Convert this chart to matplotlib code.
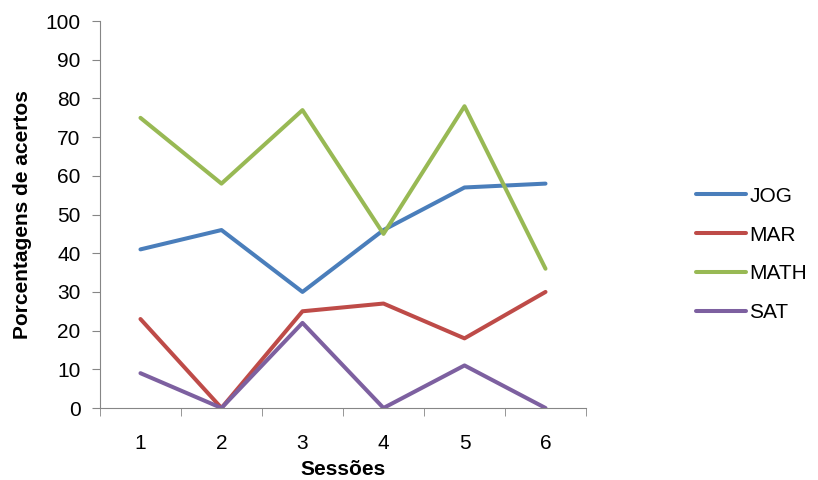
import matplotlib.pyplot as plt

plt.rcParams['font.family'] = ['Liberation Sans', 'DejaVu Sans']

sessoes = [1, 2, 3, 4, 5, 6]
jog = [41, 46, 30, 46, 57, 58]
mar = [23, 0, 25, 27, 18, 30]
math_ = [75, 58, 77, 45, 78, 36]
sat = [9, 0, 22, 0, 11, 0]

series = [('JOG', jog, '#4A7EBB'),
          ('MAR', mar, '#BE4B48'),
          ('MATH', math_, '#98B954'),
          ('SAT', sat, '#7D60A0')]

fig = plt.figure(figsize=(8.18, 4.8), dpi=100)
ax = fig.add_axes([0.1222, 0.15, 0.5942, 0.806])

for name, vals, col in series:
    ax.plot(sessoes, vals, color=col, lw=2.9, label=name, solid_capstyle='round')

ax.set_xlim(0.5, 6.5)
ax.set_ylim(0, 100)
ax.set_yticks(range(0, 101, 10))
ax.set_xticks(sessoes)
# category boundary ticks like Excel
ax.set_xticks([0.5 + i for i in range(7)], minor=True)
ax.tick_params(axis='x', which='major', length=0, labelsize=15, pad=19)
ax.tick_params(axis='x', which='minor', length=6, color='#868686')
ax.tick_params(axis='y', length=6, direction='out', color='#868686', labelsize=15, pad=8)

for s in ['top', 'right']:
    ax.spines[s].set_visible(False)
for s in ['left', 'bottom']:
    ax.spines[s].set_color('#868686')

ax.set_ylabel('Porcentagens de acertos', fontsize=15, fontweight='bold', labelpad=10)
ax.set_xlabel('Sessões', fontsize=15, fontweight='bold', labelpad=5)

fig.legend(loc='center left', bbox_to_anchor=(0.828, 0.47), frameon=False,
           fontsize=15, handlelength=2.4, handletextpad=0.15, labelspacing=0.95)

fig.savefig('out.png', dpi=100)
